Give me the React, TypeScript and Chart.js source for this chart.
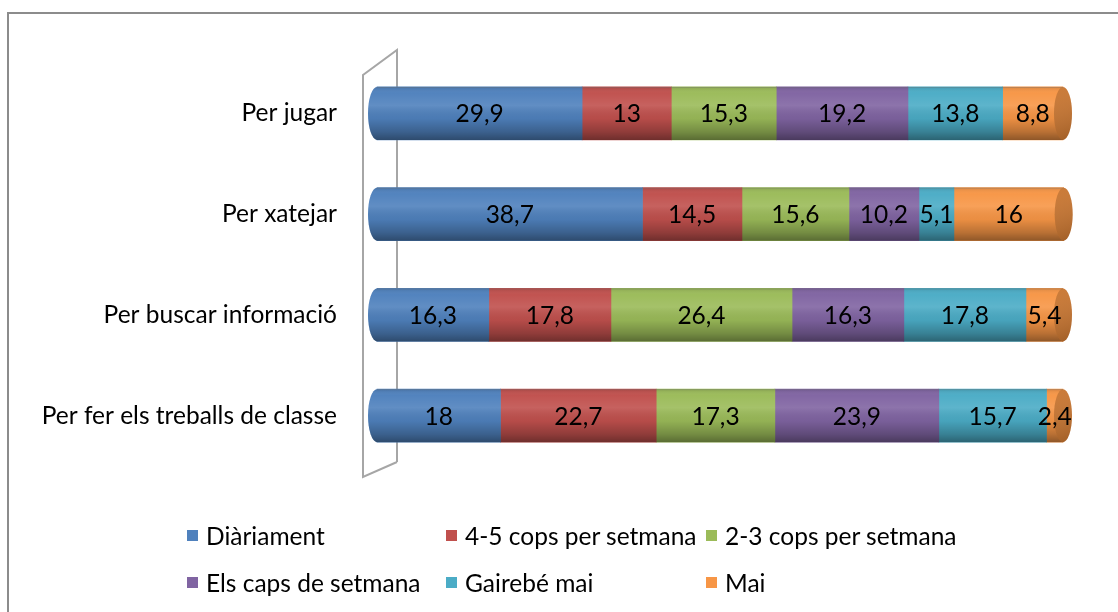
import React, { useEffect, useRef } from "react";
import { Chart, registerables } from "chart.js";

Chart.register(...registerables);

const categories = ["Per jugar", "Per xatejar", "Per buscar informació", "Per fer els treballs de classe"];
const seriesNames = ["Diàriament", "4-5 cops per setmana", "2-3 cops per setmana", "Els caps de setmana", "Gairebé mai", "Mai"];
const seriesColors = ["#4F81BD", "#C0504D", "#9BBB59", "#8064A2", "#4BACC6", "#F79646"];
const capColor = "#C8742E";

const diariament = [29.9, 38.7, 16.3, 18];
const cops45 = [13, 14.5, 17.8, 22.7];
const cops23 = [15.3, 15.6, 26.4, 17.3];
const capsSetmana = [19.2, 10.2, 16.3, 23.9];
const gairebeMai = [13.8, 5.1, 17.8, 15.7];
const mai = [8.8, 16, 5.4, 2.4];

const seriesValues = [diariament, cops45, cops23, capsSetmana, gairebeMai, mai];

const FONT = "Lato, 'Open Sans', sans-serif";
const FONT_SIZE = 24.5;
const BAR_H = 53;
const RX = 9;

const fmt = (v: number) => String(v).replace(".", ",");

const cylinderPlugin = {
  id: "cylinder",
  beforeDatasetsDraw(chart: any) {
    const { ctx, chartArea } = chart;
    const l = chartArea.left;
    ctx.save();
    ctx.strokeStyle = "#A6A6A6";
    ctx.lineWidth = 2;
    ctx.beginPath();
    ctx.moveTo(l + 20, chartArea.bottom - 4);
    ctx.lineTo(l + 20, chartArea.top - 13);
    ctx.lineTo(l - 14, chartArea.top + 12);
    ctx.lineTo(l - 14, chartArea.bottom + 11);
    ctx.lineTo(l + 20, chartArea.bottom - 4);
    ctx.stroke();
    ctx.restore();
  },
  afterDatasetsDraw(chart: any) {
    const { ctx } = chart;
    const xs = chart.scales.x;
    const ys = chart.scales.y;
    ctx.save();
    categories.forEach((_c, i) => {
      const yc = ys.getPixelForValue(i);
      const top = yc - BAR_H / 2;
      const ry = BAR_H / 2;
      let sum = 0;
      seriesValues.forEach((s) => (sum += s[i]));
      const x0 = xs.getPixelForValue(0);
      const xe = xs.getPixelForValue(sum);
      // left rounded end
      ctx.beginPath();
      ctx.ellipse(x0, yc, RX, ry, 0, Math.PI / 2, (3 * Math.PI) / 2);
      ctx.closePath();
      ctx.fillStyle = seriesColors[0];
      ctx.fill();
      // shading over body
      const g = ctx.createLinearGradient(0, top, 0, top + BAR_H);
      g.addColorStop(0, "rgba(0,0,0,0.12)");
      g.addColorStop(0.12, "rgba(255,255,255,0.02)");
      g.addColorStop(0.35, "rgba(255,255,255,0.10)");
      g.addColorStop(0.6, "rgba(0,0,0,0.05)");
      g.addColorStop(0.85, "rgba(0,0,0,0.25)");
      g.addColorStop(1, "rgba(0,0,0,0.42)");
      ctx.beginPath();
      ctx.ellipse(x0, yc, RX, ry, 0, Math.PI / 2, (3 * Math.PI) / 2);
      ctx.lineTo(xe, top);
      ctx.lineTo(xe, top + BAR_H);
      ctx.closePath();
      ctx.fillStyle = g;
      ctx.fill();
      // right cap
      ctx.beginPath();
      ctx.ellipse(xe, yc, RX, ry, 0, 0, Math.PI * 2);
      ctx.fillStyle = capColor;
      ctx.fill();
      const g2 = ctx.createLinearGradient(xe - RX, top, xe + RX, top + BAR_H);
      g2.addColorStop(0, "rgba(255,255,255,0.05)");
      g2.addColorStop(1, "rgba(0,0,0,0.2)");
      ctx.fillStyle = g2;
      ctx.fill();
      // top edge line
      ctx.beginPath();
      ctx.moveTo(x0, top + 0.5);
      ctx.lineTo(xe, top + 0.5);
      ctx.strokeStyle = "rgba(120,120,120,0.35)";
      ctx.lineWidth = 1;
      ctx.stroke();
    });
    // labels
    ctx.font = `${FONT_SIZE}px ${FONT}`;
    ctx.fillStyle = "#000";
    ctx.textAlign = "center";
    ctx.textBaseline = "middle";
    chart.data.datasets.forEach((ds: any, d: number) => {
      const meta = chart.getDatasetMeta(d);
      meta.data.forEach((el: any, i: number) => {
        const cx = (el.x + el.base) / 2;
        ctx.fillText(fmt(ds.data[i]), cx, el.y + 1);
      });
    });
    ctx.restore();
  },
};

export default function App() {
  const ref = useRef<HTMLCanvasElement | null>(null);
  useEffect(() => {
    if (!ref.current) return;
    const chart = new Chart(ref.current, {
      type: "bar",
      data: {
        labels: categories,
        datasets: seriesNames.map((name, k) => ({
          label: name,
          data: seriesValues[k],
          backgroundColor: seriesColors[k],
          borderWidth: 0,
          barThickness: BAR_H,
          clip: false as any,
        })),
      },
      options: {
        indexAxis: "y",
        animation: false,
        responsive: false,
        maintainAspectRatio: false,
        layout: { padding: { left: 0, right: 55, top: 63, bottom: 146 } },
        plugins: { legend: { display: false }, tooltip: { enabled: false } },
        scales: {
          x: { stacked: true, min: 0, max: 100, display: false },
          y: {
            stacked: true,
            grid: { display: false },
            border: { display: false },
            afterFit: (scale: any) => {
              scale.width = 377;
            },
            ticks: {
              padding: 32,
              color: "#000",
              font: { size: FONT_SIZE, family: FONT },
            },
          },
        },
      },
      plugins: [cylinderPlugin],
    });
    return () => chart.destroy();
  }, []);

  const colLeft = [187, 446, 706];
  const rowCenter = [535, 582];

  return (
    <div style={{ position: "absolute", left: 0, top: 0, width: 1118, height: 612, overflow: "hidden", background: "#fff" }}>
      <div
        style={{
          position: "absolute",
          left: 7,
          top: 12,
          width: 1300,
          height: 800,
          borderLeft: "2px solid #8C8C8C",
          borderTop: "2px solid #8C8C8C",
        }}
      />
      <canvas ref={ref} width={1118} height={612} style={{ position: "absolute", left: 0, top: 0, width: 1118, height: 612 }} />
      {seriesNames.map((name, k) => (
        <div
          key={name}
          style={{
            position: "absolute",
            left: colLeft[k % 3],
            top: rowCenter[Math.floor(k / 3)] - 15,
            height: 30,
            display: "flex",
            alignItems: "center",
            fontFamily: FONT,
            fontSize: FONT_SIZE,
            color: "#000",
            whiteSpace: "nowrap",
          }}
        >
          <span style={{ display: "inline-block", width: 11, height: 11, background: seriesColors[k], marginRight: 8 }} />
          <span>{name}</span>
        </div>
      ))}
    </div>
  );
}
